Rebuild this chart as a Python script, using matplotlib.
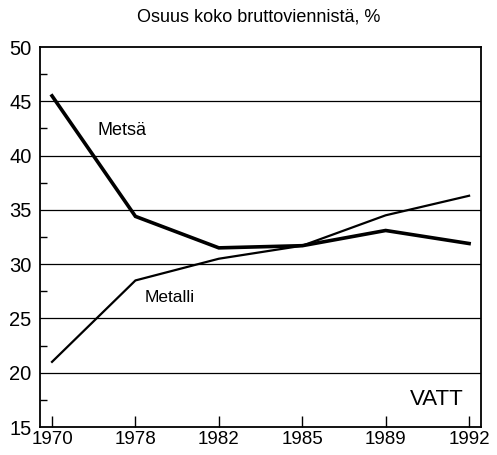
import matplotlib.pyplot as plt
from matplotlib.ticker import MultipleLocator

plt.rcParams['font.family'] = ['Liberation Sans', 'DejaVu Sans']

vuodet = ['1970', '1978', '1982', '1985', '1989', '1992']
metsa = [45.5, 34.4, 31.5, 31.7, 33.1, 31.9]
metalli = [21.0, 28.5, 30.5, 31.7, 34.5, 36.3]

fig = plt.figure(figsize=(4.97, 4.55), dpi=100)
ax = fig.add_axes([0.0805, 0.0615, 0.8875, 0.8352])

x = range(len(vuodet))
ax.plot(x, metsa, color='black', lw=2.6, solid_joinstyle='miter')
ax.plot(x, metalli, color='black', lw=1.6, solid_joinstyle='miter')

ax.set_xlim(-0.144, 5.144)
ax.set_ylim(15, 50)
ax.set_xticks(list(x))
ax.set_xticklabels(vuodet)
ax.yaxis.set_major_locator(MultipleLocator(5))
ax.yaxis.set_minor_locator(MultipleLocator(2.5))
ax.tick_params(axis='x', direction='in', length=8, width=1, labelsize=13.5, pad=3)
ax.tick_params(axis='y', which='major', direction='in', length=0, labelsize=14.5, pad=6)
ax.tick_params(axis='y', which='minor', direction='in', length=5, width=1)

for v in [20, 25, 30, 35, 40, 45]:
    ax.axhline(v, color='black', lw=0.9, zorder=0)

for s in ax.spines.values():
    s.set_linewidth(1.3)

ax.text(0.54, 42.35, 'Metsä', fontsize=13, va='center')
ax.text(1.115, 26.9, 'Metalli', fontsize=12.5, va='center')
ax.text(4.93, 17.5, 'VATT', fontsize=16, ha='right', va='center')

fig.text(0.521, 0.963, 'Osuus koko bruttoviennistä, %', fontsize=13, ha='center', va='center')

fig.savefig('out.png', dpi=100)
